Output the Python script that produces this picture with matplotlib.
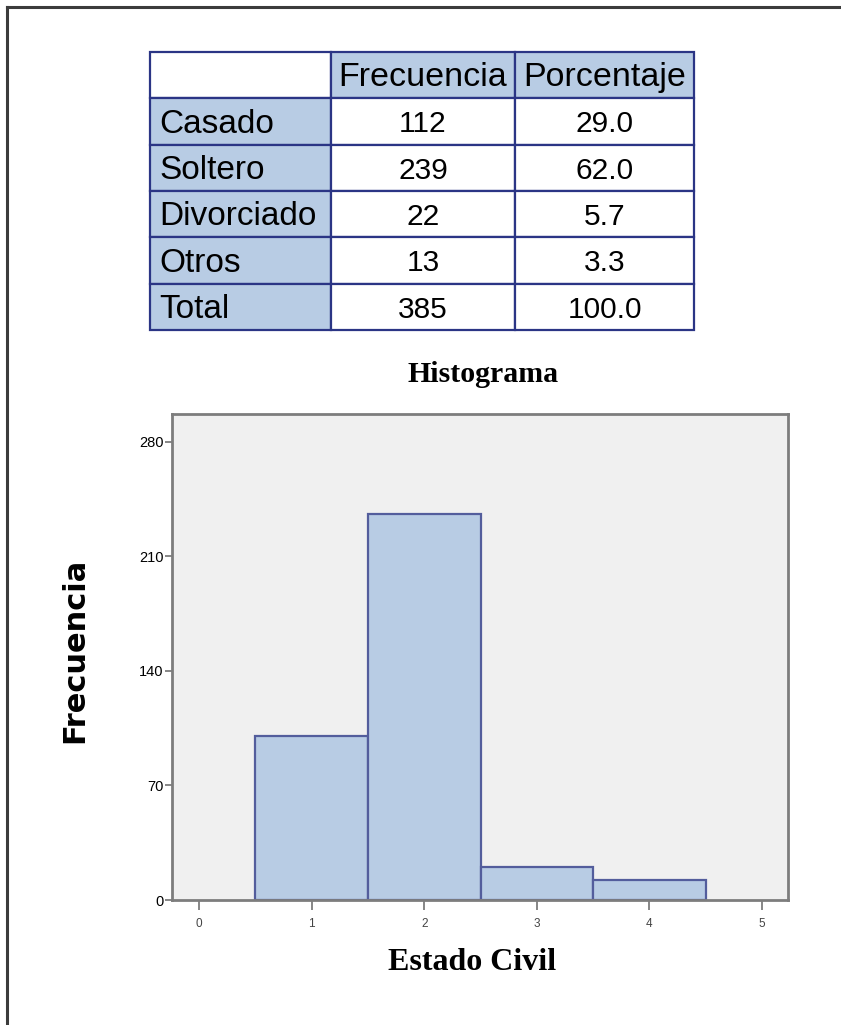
import matplotlib.pyplot as plt
from matplotlib.patches import Rectangle
from matplotlib.lines import Line2D

# frequency table
encabezados = ["", "Frecuencia", "Porcentaje"]
estados = ["Casado", "Soltero", "Divorciado", "Otros", "Total"]
frecuencia = ["112", "239", "22", "13", "385"]
porcentaje = ["29.0", "62.0", "5.7", "3.3", "100.0"]

# histogram bars as drawn (heights)
codigos = [1, 2, 3, 4]
alturas = [100, 236, 20, 12]
yticks = [0, 70, 140, 210, 280]
xticks = [0, 1, 2, 3, 4, 5]

AZUL = "#b8cce4"
BORDE = "#2b3585"
GRIS = "#7d7d7d"
W, H = 841, 1025

fig = plt.figure(figsize=(W / 100, H / 100), dpi=100)

# page frame: only top and left edges show
fig.add_artist(Line2D([7 / W, 7 / W], [0, 1 - 7 / H], color="#3c3c3c", lw=2.2))
fig.add_artist(Line2D([7 / W, 1], [1 - 7 / H, 1 - 7 / H], color="#3c3c3c", lw=2.2))

# ---- table ----
ax_t = fig.add_axes([150 / W, 1 - 330 / H, 544 / W, 278 / H])
col_edges = [0, 181, 365, 544]
ax_t.set_xlim(0, 544)
ax_t.set_ylim(6, 0)
ax_t.axis("off")

filas = [encabezados] + [[e, f, p] for e, f, p in zip(estados, frecuencia, porcentaje)]
for r, fila in enumerate(filas):
    for c, txt in enumerate(fila):
        x0, x1 = col_edges[c], col_edges[c + 1]
        azul = (r == 0 and c > 0) or (r > 0 and c == 0)
        ax_t.add_patch(Rectangle((x0, r), x1 - x0, 1, facecolor=AZUL if azul else "white",
                                 edgecolor=BORDE, lw=1.6, clip_on=False))
        if c == 0 and r > 0:
            ax_t.text(x0 + 9, r + 0.56, txt, ha="left", va="center",
                      family="Liberation Sans", fontsize=24, color="black")
        elif r == 0:
            ax_t.text((x0 + x1) / 2, r + 0.56, txt, ha="center", va="center",
                      family="Liberation Sans", fontsize=24.5, color="black")
        else:
            ax_t.text((x0 + x1) / 2, r + 0.56, txt, ha="center", va="center",
                      family="Liberation Sans", fontsize=21.5, color="black")

# ---- histogram ----
ax = fig.add_axes([172 / W, 1 - 900 / H, 616 / W, 486 / H])
ax.set_facecolor("#f0f0f0")
ax.bar(codigos, alturas, width=1.0, color=AZUL, edgecolor="#535d9c", linewidth=1.6, zorder=2)
ax.set_xlim(-0.24, 5.23)
ax.set_ylim(0, 297)
ax.set_xticks(xticks)
ax.set_yticks(yticks)
for s in ax.spines.values():
    s.set_color(GRIS)
    s.set_linewidth(2.0)
ax.tick_params(axis="y", length=5, width=1.3, color=GRIS, labelsize=10.5, pad=1)
ax.tick_params(axis="x", length=7, width=1.3, color=GRIS, labelsize=8.5,
               labelcolor="#444444", pad=6)
for lab in ax.get_xticklabels() + ax.get_yticklabels():
    lab.set_family("Liberation Sans")

fig.text(483 / W, 1 - 375 / H, "Histograma", ha="center", va="center",
         family="Liberation Serif", weight="bold", fontsize=21.5)
fig.text(472 / W, 1 - 962 / H, "Estado Civil", ha="center", va="center",
         family="Liberation Serif", weight="bold", fontsize=23)
fig.text(75 / W, 1 - 650 / H, "Frecuencia", ha="center", va="center", rotation=90,
         family="DejaVu Sans", weight="heavy", fontsize=22)

fig.savefig("out.png", dpi=100)
